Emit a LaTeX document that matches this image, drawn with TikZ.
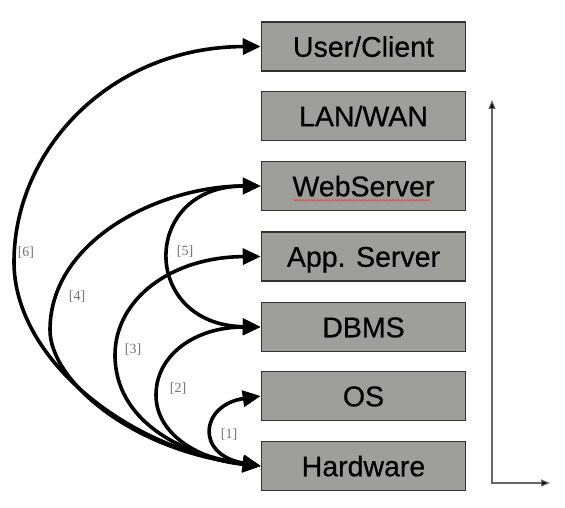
\documentclass[tikz,border=0pt]{standalone}
\usepackage{fontspec}
\setmainfont{Liberation Sans}
\newfontfamily\boxfont[FakeBold=0.6]{Liberation Sans}
\newfontfamily\lblfont{Liberation Serif}
\usetikzlibrary{arrows.meta,decorations.pathmorphing}
\definecolor{boxgray}{RGB}{158,158,155}
\begin{document}
\begin{tikzpicture}[x=1pt,y=-1pt,
  layer/.style={draw=black!80, line width=1.5pt, fill=boxgray, minimum width=204pt,
    minimum height=49pt, inner sep=0pt, text height=20.5pt, text depth=0pt,
    font=\boxfont\fontsize{28.5}{31}\selectfont, text=black},
  link/.style={line width=3.6pt, {Triangle[length=18pt,width=16pt]}-{Triangle[length=18pt,width=16pt]}},
  tag/.style={font=\lblfont\fontsize{14}{15}\selectfont, text=black!55, inner sep=0pt},
  axis/.style={draw=black!60, line width=1.2pt, {Triangle[length=9pt,width=7pt,fill=black]}-{Triangle[length=9pt,width=7pt,fill=black]}},
  squiggle/.style={draw=red!80, line width=0.6pt, decorate, decoration={snake, amplitude=0.7pt, segment length=3pt}}]
\useasboundingbox (0,0) rectangle (565,508);

\node[layer] (uc) at (363.5,46.5) {User/Client};
\node[layer] (lan) at (363.5,116) {LAN/WAN};
\node[layer] (ws) at (363.5,186) {WebServer};
\node[layer] (as) at (363.5,256.5) {App. Server};
\node[layer] (db) at (363.5,327) {DBMS};
\node[layer] (os) at (363.5,396) {OS};
\node[layer] (hw) at (363.5,466) {Hardware};

\draw[squiggle] ([xshift=32pt,yshift=11pt]ws.south west) -- ([xshift=-36pt,yshift=11pt]ws.south east);

% axis
\coordinate (ytop) at (492,100);
\coordinate (orig) at (492,483);
\coordinate (xend) at (550,483);
\draw[axis] (ytop) -- (orig) -- (xend);

% [6] Hardware <-> User/Client
\draw[link] (hw.west) .. controls (130,450) and (14,360) .. (14,262)
  .. controls (14,150) and (110,47) .. (uc.west);
% [4] Hardware <-> WebServer
\draw[link] (hw.west) .. controls (130,450) and (50,380) .. (50,330)
  .. controls (50,240) and (160,186) .. (ws.west);
% [3] Hardware <-> App. Server
\draw[link] (hw.west) .. controls (180,455) and (115,420) .. (115,355)
  .. controls (115,300) and (170,257) .. (as.west);
% [2] Hardware <-> DBMS
\draw[link] (hw.west) .. controls (200,460) and (156,435) .. (156,395)
  .. controls (156,355) and (195,327) .. (db.west);
% [1] Hardware <-> OS
\draw[link] (hw.west) .. controls (195,455) and (200,405) .. (os.west);
% [5] WebServer <-> DBMS
\draw[link] (ws.west) .. controls (140,186) and (140,325) .. (db.west);

\node[tag] (t6) at (26,253) {[6]};
\node[tag] (t5) at (185,252) {[5]};
\node[tag] (t4) at (77,297) {[4]};
\node[tag] (t3) at (133,350) {[3]};
\node[tag] (t2) at (178,389) {[2]};
\node[tag] (t1) at (229,435) {[1]};
\end{tikzpicture}
\end{document}
